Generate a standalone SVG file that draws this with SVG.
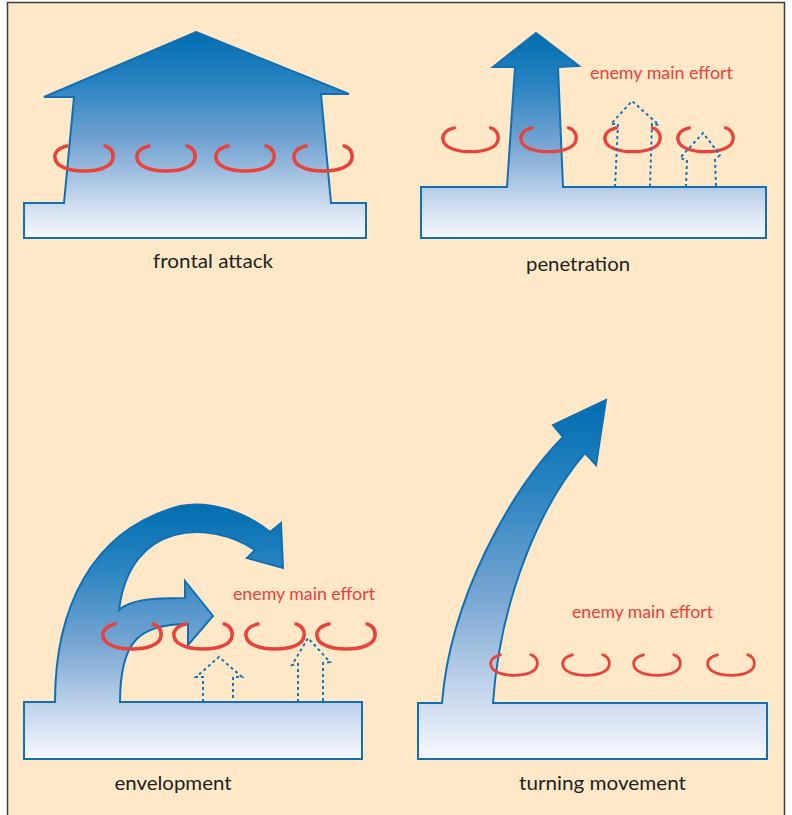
<svg xmlns="http://www.w3.org/2000/svg" xmlns:xlink="http://www.w3.org/1999/xlink" width="792" height="815" viewBox="0 0 792 815">
  <defs>
    <linearGradient id="blueGrad" x1="0" y1="0" x2="0" y2="1">
      <stop offset="0" stop-color="#006db0"/>
      <stop offset="0.25" stop-color="#2a84c1"/>
      <stop offset="0.55" stop-color="#78a6d3"/>
      <stop offset="0.8" stop-color="#c2d4eb"/>
      <stop offset="1" stop-color="#f8f9fd"/>
    </linearGradient>
    <path id="hook" d="M13,1 C4,3 0,8 1,13 C2,22 16,26 30,26 C45,26 58,22 59,13 C60,7 56,2 51,1"/>
  </defs>
  <style>
    .shape { fill: url(#blueGrad); stroke: #1070b4; stroke-width: 2; stroke-linejoin: miter; }
    .hook use { fill: none; stroke: #e8423a; stroke-width: 3.5; stroke-linecap: round; }
    .dotted { fill: none; stroke: #1a74b8; stroke-width: 2; stroke-dasharray: 3 3; }
    .label { font-family: "Lato", "Open Sans", "Liberation Sans", sans-serif; font-size: 20px; fill: #231f20; text-anchor: middle; }
    .enemy { font-family: "Lato", "Open Sans", "Liberation Sans", sans-serif; font-size: 17px; fill: #e8423a; text-anchor: middle; }
  </style>

  <rect x="0" y="0" width="792" height="815" fill="#ffffff"/>
  <rect id="frame" x="7.5" y="2.5" width="777" height="830" fill="#fee8c8" stroke="#3f3f3f" stroke-width="1.5"/>

  <!-- Frontal attack -->
  <g id="frontal-attack">
    <path class="shape" d="M196,32 L349,94 L321,94 L331,203 L366,203 L366,238 L24,238 L24,203 L64,203 L74,97 L44,97 Z"/>
    <g class="hook">
      <use xlink:href="#hook" transform="translate(54,145)"/>
      <use xlink:href="#hook" transform="translate(136,145)"/>
      <use xlink:href="#hook" transform="translate(215,145)"/>
      <use xlink:href="#hook" transform="translate(293,145)"/>
    </g>
    <text class="label" x="213" y="268" textLength="120" lengthAdjust="spacingAndGlyphs">frontal attack</text>
  </g>

  <!-- Penetration -->
  <g id="penetration">
    <path class="shape" d="M421,187 L507,187 L515,67 L493,67 L536,33 L579,66 L558,67 L563,187 L766,187 L766,238 L421,238 Z"/>
    <g class="hook">
      <use xlink:href="#hook" transform="translate(442,127) scale(0.95,0.95)"/>
      <use xlink:href="#hook" transform="translate(520,127) scale(0.95,0.95)"/>
      <use xlink:href="#hook" transform="translate(604,127) scale(0.95,0.95)"/>
      <use xlink:href="#hook" transform="translate(677,127) scale(0.95,0.95)"/>
    </g>
    <text class="enemy" x="661.5" y="79" textLength="143" lengthAdjust="spacingAndGlyphs">enemy main effort</text>
    <text class="label" x="578" y="271" textLength="104" lengthAdjust="spacingAndGlyphs">penetration</text>
  </g>

  <!-- Envelopment -->
  <g id="envelopment">
    <path class="shape" d="M24,702 L55,702 C55,610 90,530 180,506 C210,500 245,512 270,532 L281,523 L283,568 L247,558 L255,550 C210,520 130,520 119,610 C130,600 150,598 185,598 L185,581 L213,616 L188,645 L188,624 C140,624 120,640 120,702 L362,702 L362,759 L24,759 Z"/>
    <g class="hook">
      <use xlink:href="#hook" transform="translate(102,623)"/>
      <use xlink:href="#hook" transform="translate(173,623)"/>
      <use xlink:href="#hook" transform="translate(245,623)"/>
      <use xlink:href="#hook" transform="translate(316,623)"/>
    </g>
    <text class="enemy" x="304" y="600" textLength="142" lengthAdjust="spacingAndGlyphs">enemy main effort</text>
    <text class="label" x="173" y="790" textLength="117" lengthAdjust="spacingAndGlyphs">envelopment</text>
  </g>

  <!-- Turning movement -->
  <g id="turning-movement">
    <path class="shape" d="M418,703 L442,703 C450,600 510,490 563,437 L553,425 L606,400 L596,465 L585,453 C540,505 500,600 493,703 L767,703 L767,759 L418,759 Z"/>
    <g class="hook">
      <use xlink:href="#hook" transform="translate(490,654) scale(0.8,0.82)"/>
      <use xlink:href="#hook" transform="translate(562,654) scale(0.8,0.82)"/>
      <use xlink:href="#hook" transform="translate(633,654) scale(0.8,0.82)"/>
      <use xlink:href="#hook" transform="translate(707,654) scale(0.8,0.82)"/>
    </g>
    <text class="enemy" x="642.5" y="618" textLength="141" lengthAdjust="spacingAndGlyphs">enemy main effort</text>
    <text class="label" x="602.5" y="790" textLength="167" lengthAdjust="spacingAndGlyphs">turning movement</text>
  </g>

  <!-- Dotted enemy arrows -->
  <g id="connectors">
    <path class="dotted" d="M615,187 L618,124 L611,124 L632,101 L659,125 L652,124 L650,187"/>
    <path class="dotted" d="M686,187 L687,160 L680,158 L703,133 L720,155 L715,160 L716,187"/>
    <path class="dotted" d="M203,702 L203,677 L196,677 L219,657 L242,677 L233,677 L233,702"/>
    <path class="dotted" d="M298,702 L298,664 L292,665 L308,638 L330,662 L323,663 L323,702"/>
  </g>
</svg>
